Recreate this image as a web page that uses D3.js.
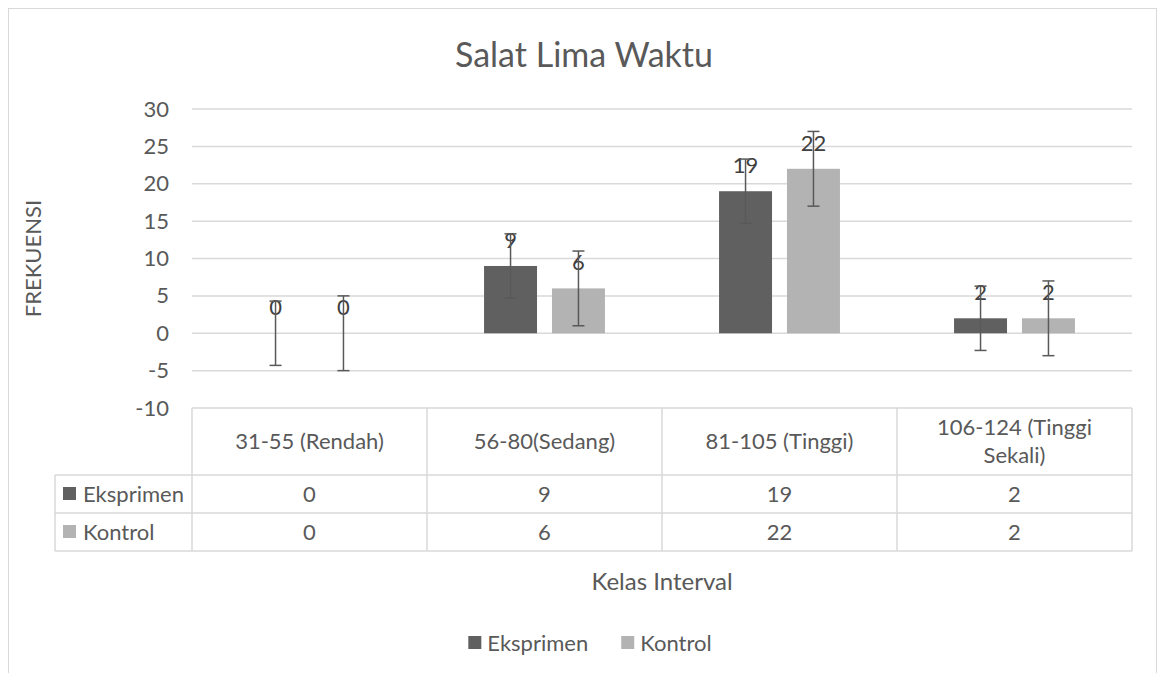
<!DOCTYPE html>
<html>
<head>
<meta charset="utf-8">
<script src="https://cdn.jsdelivr.net/npm/d3@7"></script>
<style>
  html, body { margin: 0; padding: 0; background: #fff; }
  svg { display: block; }
</style>
</head>
<body>
<div class="plot-container"></div>
<script>
// values
const categories = ["31-55 (Rendah)", "56-80(Sedang)", "81-105 (Tinggi)", "106-124 (Tinggi Sekali)"];
const seriesNames = ["Eksprimen", "Kontrol"];
const eksprimen = [0, 9, 19, 2];
const kontrol = [0, 6, 22, 2];
// +/- error amount drawn for each series (same for every bar of a series)
const errorAmounts = [4.3, 5.0];
const yTicks = [-10, -5, 0, 5, 10, 15, 20, 25, 30];
const seriesColors = ["#606060", "#b3b3b3"];

const TITLE = "Salat Lima Waktu";
const X_TITLE = "Kelas Interval";
const Y_TITLE = "FREKUENSI";

const width = 1161,
  height = 673;
const FONT = "Lato, 'Open Sans', sans-serif";
const TEXT_COLOR = "#595959";
const GRID_COLOR = "#d9d9d9";
const ERR_COLOR = "#595959";
const FS = "22px";

const seriesValues = [eksprimen, kontrol];

const svg = d3
  .select("div.plot-container")
  .append("svg")
  .attr("width", width)
  .attr("height", height)
  .style("font-family", FONT);

// chart area border
svg
  .append("rect")
  .attr("x", 8.5)
  .attr("y", 8.5)
  .attr("width", 1148)
  .attr("height", 720)
  .attr("fill", "#fff")
  .attr("stroke", GRID_COLOR)
  .attr("stroke-width", 1);

// Scales
const plotLeft = 192,
  plotRight = 1132;
const y = d3.scaleLinear().domain([-10, 30]).range([408, 109]);
const x0 = d3.scaleBand().domain(categories).range([plotLeft, plotRight]).padding(0);
const x1 = d3
  .scaleBand()
  .domain(seriesNames)
  .range([0, x0.bandwidth()])
  .paddingInner(0.22)
  .paddingOuter(0.84);

// Title
svg
  .append("text")
  .attr("x", 584)
  .attr("y", 67)
  .attr("text-anchor", "middle")
  .style("font-size", "34px")
  .attr("fill", TEXT_COLOR)
  .text(TITLE);

// Gridlines
svg
  .append("g")
  .attr("class", "grid")
  .selectAll("line")
  .data(yTicks)
  .enter()
  .append("line")
  .attr("x1", plotLeft)
  .attr("x2", plotRight)
  .attr("y1", d => y(d))
  .attr("y2", d => y(d))
  .attr("stroke", GRID_COLOR)
  .attr("stroke-width", 1.5);

// Y axis labels
const yAxis = svg
  .append("g")
  .attr("transform", `translate(${plotLeft},0)`)
  .call(
    d3
      .axisLeft(y)
      .tickValues(yTicks)
      .tickSize(0)
      .tickPadding(23)
      .tickFormat(d => String(d))
  );
yAxis.select(".domain").remove();
yAxis
  .selectAll("text")
  .style("font-family", FONT)
  .style("font-size", FS)
  .attr("fill", TEXT_COLOR);

svg
  .append("text")
  .attr("transform", `translate(41,${(y(30) + y(-10)) / 2}) rotate(-90)`)
  .attr("text-anchor", "middle")
  .style("font-size", FS)
  .attr("fill", TEXT_COLOR)
  .text(Y_TITLE);

// Bars
const groups = svg
  .append("g")
  .attr("class", "bars")
  .selectAll("g")
  .data(categories)
  .enter()
  .append("g")
  .attr("transform", d => `translate(${x0(d)},0)`);

const barData = (cat, ci) =>
  seriesNames.map((s, si) => ({
    series: s,
    si: si,
    value: seriesValues[si][ci],
    err: errorAmounts[si]
  }));

groups
  .selectAll("rect")
  .data((d, ci) => barData(d, ci))
  .enter()
  .append("rect")
  .attr("x", d => x1(d.series))
  .attr("width", x1.bandwidth())
  .attr("y", d => Math.min(y(d.value), y(0)))
  .attr("height", d => Math.abs(y(d.value) - y(0)))
  .attr("fill", d => seriesColors[d.si]);

// Data labels
groups
  .selectAll("text.label")
  .data((d, ci) => barData(d, ci))
  .enter()
  .append("text")
  .attr("class", "label")
  .attr("x", d => x1(d.series) + x1.bandwidth() / 2)
  .attr("y", d => y(d.value) - 18)
  .attr("text-anchor", "middle")
  .style("font-size", FS)
  .attr("fill", "#404040")
  .text(d => d.value);

// Error bars
const CAP = 6;
const errs = groups
  .selectAll("g.err")
  .data((d, ci) => barData(d, ci))
  .enter()
  .append("g")
  .attr("class", "err")
  .attr("stroke", ERR_COLOR)
  .attr("stroke-width", 1.5);
errs
  .append("line")
  .attr("x1", d => x1(d.series) + x1.bandwidth() / 2)
  .attr("x2", d => x1(d.series) + x1.bandwidth() / 2)
  .attr("y1", d => y(d.value + d.err))
  .attr("y2", d => y(d.value - d.err));
errs
  .selectAll("line.cap")
  .data(d => [
    { cx: x1(d.series) + x1.bandwidth() / 2, v: d.value + d.err },
    { cx: x1(d.series) + x1.bandwidth() / 2, v: d.value - d.err }
  ])
  .enter()
  .append("line")
  .attr("class", "cap")
  .attr("x1", d => d.cx - CAP)
  .attr("x2", d => d.cx + CAP)
  .attr("y1", d => y(d.v))
  .attr("y2", d => y(d.v));

// Data table
const tableTop = y(-10),
  headerBottom = 475,
  rowH = 38,
  tableLeft = 55;
const rowTops = seriesNames.map((s, i) => headerBottom + i * rowH);
const tableBottom = headerBottom + seriesNames.length * rowH;

const table = svg
  .append("g")
  .attr("class", "table")
  .attr("stroke", GRID_COLOR)
  .attr("stroke-width", 1.5);

// horizontal lines
table
  .selectAll("line.h")
  .data([headerBottom, ...rowTops.slice(1), tableBottom])
  .enter()
  .append("line")
  .attr("x1", tableLeft)
  .attr("x2", plotRight)
  .attr("y1", d => d)
  .attr("y2", d => d);
// vertical lines
const colEdges = categories.map(c => x0(c)).concat([plotRight]);
table
  .selectAll("line.v")
  .data(colEdges)
  .enter()
  .append("line")
  .attr("x1", d => d)
  .attr("x2", d => d)
  .attr("y1", tableTop)
  .attr("y2", tableBottom);
table
  .append("line")
  .attr("x1", tableLeft)
  .attr("x2", tableLeft)
  .attr("y1", headerBottom)
  .attr("y2", tableBottom);

// header labels (wrapped)
const headerG = svg.append("g").attr("class", "headers");
categories.forEach(cat => {
  const t = headerG
    .append("text")
    .attr("text-anchor", "middle")
    .style("font-size", FS)
    .attr("fill", TEXT_COLOR);
  const cx = x0(cat) + x0.bandwidth() / 2;
  const words = cat.split(" ");
  const lines = [];
  let line = [];
  const probe = t.append("tspan");
  words.forEach(w => {
    line.push(w);
    probe.text(line.join(" "));
    if (probe.node().getComputedTextLength() > x0.bandwidth() - 40 && line.length > 1) {
      line.pop();
      lines.push(line.join(" "));
      line = [w];
    }
  });
  lines.push(line.join(" "));
  probe.remove();
  const lh = 28;
  const midY = (tableTop + headerBottom) / 2 + 7;
  lines.forEach((l, i) => {
    t.append("tspan")
      .attr("x", cx)
      .attr("y", midY + (i - (lines.length - 1) / 2) * lh)
      .text(l);
  });
});

// row headers and values
seriesNames.forEach((s, si) => {
  const rowMid = rowTops[si] + rowH / 2;
  svg
    .append("rect")
    .attr("x", 63)
    .attr("y", rowMid - 7)
    .attr("width", 13)
    .attr("height", 13)
    .attr("fill", seriesColors[si]);
  svg
    .append("text")
    .attr("x", 83)
    .attr("y", rowMid + 8)
    .style("font-size", FS)
    .attr("fill", TEXT_COLOR)
    .text(s);
  svg
    .append("g")
    .selectAll("text")
    .data(categories)
    .enter()
    .append("text")
    .attr("x", d => x0(d) + x0.bandwidth() / 2)
    .attr("y", rowMid + 8)
    .attr("text-anchor", "middle")
    .style("font-size", FS)
    .attr("fill", TEXT_COLOR)
    .text((d, ci) => seriesValues[si][ci]);
});

// X axis title
svg
  .append("text")
  .attr("x", (plotLeft + plotRight) / 2)
  .attr("y", 590)
  .attr("text-anchor", "middle")
  .style("font-size", "24px")
  .attr("fill", TEXT_COLOR)
  .text(X_TITLE);

// Legend
const legend = svg.append("g").attr("class", "legend");
let lx = 0;
seriesNames.forEach((s, si) => {
  const item = legend.append("g").attr("transform", `translate(${lx},0)`);
  item
    .append("rect")
    .attr("x", 0)
    .attr("y", -7)
    .attr("width", 13)
    .attr("height", 13)
    .attr("fill", seriesColors[si]);
  const txt = item
    .append("text")
    .attr("x", 19)
    .attr("y", 8)
    .style("font-size", FS)
    .attr("fill", TEXT_COLOR)
    .text(s);
  lx += 19 + txt.node().getComputedTextLength() + 33;
});
const legendW = lx - 33;
legend.attr("transform", `translate(${590 - legendW / 2},643)`);
</script>
</body>
</html>
